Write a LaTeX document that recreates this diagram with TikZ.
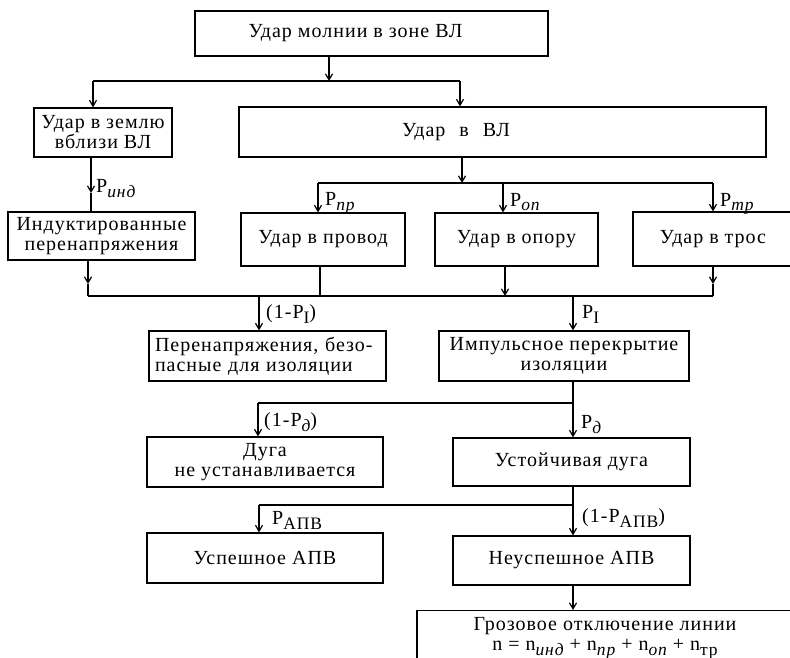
\documentclass[tikz,border=0pt]{standalone}
\usepackage{fontspec}
\setmainfont{Liberation Serif}[LetterSpace=5]
\usetikzlibrary{arrows.meta}
\newcommand{\sbI}[1]{\raisebox{-5pt}{\fontsize{17.5}{17.5}\selectfont\itshape #1}}
\newcommand{\sbU}[1]{\raisebox{-5pt}{\fontsize{17.5}{17.5}\selectfont\upshape #1}}
\begin{document}
\begin{tikzpicture}[x=1pt,y=-1pt,
  box/.style={draw, line width=1.2pt, inner sep=3pt, align=center, font=\fontsize{20}{20}\selectfont},
  ln/.style={line width=1.2pt},
  arr/.style={ln, -{Straight Barb[length=6pt,width=7pt]}},
  lbl/.style={anchor=base west, inner sep=0pt, font=\fontsize{20}{20}\selectfont}]
\useasboundingbox (0,0) rectangle (790,658);
\fill[white] (0,0) rectangle (790,658);
\clip (0,0) rectangle (790,658);

% boxes
\node[box, minimum width=353pt, minimum height=45pt] (top) at (371.5,33.5) {Удар молнии в зоне ВЛ\hspace{32pt}};
\node[box, minimum width=138pt, minimum height=49pt] (zem) at (103,132.5) {Удар в землю\\вблизи ВЛ};
\node[box, minimum width=527pt, minimum height=50pt] (vl) at (502.5,132) {Удар\hspace{14pt}в\hspace{14pt}ВЛ\hspace{93pt}};
\node[box, minimum width=187pt, minimum height=48pt] (ind) at (101.5,236) {Индуктированные\\перенапряжения};
\node[box, minimum width=164pt, minimum height=53pt] (prov) at (323,239.5) {Удар в провод};
\node[box, minimum width=163pt, minimum height=53pt] (opora) at (516.5,239.5) {Удар в опору};
\node[box, minimum width=160pt, minimum height=54pt] (tros) at (713,239) {Удар в трос};
\node[box, minimum width=237pt, minimum height=50pt, align=left, text width=225pt, inner xsep=6pt] (safe) at (267.5,356) {Перенапряжения, безо-\\пасные для изоляции};
\node[box, minimum width=250pt, minimum height=50pt] (imp) at (564,356) {Импульсное перекрытие\\изоляции};
\node[box, minimum width=236pt, minimum height=50pt] (nodug) at (265,462) {Дуга\\не устанавливается};
\node[box, minimum width=237pt, minimum height=48pt] (ust) at (571.5,462) {Устойчивая дуга};
\node[box, minimum width=236pt, minimum height=50pt] (usp) at (265,558) {Успешное АПВ};
\node[box, minimum width=237pt, minimum height=49pt] (neusp) at (571.5,560.5) {Неуспешное АПВ};
\node[box, anchor=north, minimum width=376pt, font=\fontsize{20}{20}\selectfont] (groz) at (605,610)
  {\rule{0pt}{17pt}Грозовое отключение линии\\n = n\sbI{инд} + n\sbI{пр} + n\sbI{оп} + n\sbU{тр}\rule[-30pt]{0pt}{30pt}};

% junction coordinates
\coordinate (a0) at (329,81);
\coordinate (aL) at (93,81);
\coordinate (aR) at (460,81);
\coordinate (bM) at (91,193);
\coordinate (c0) at (462,183);
\coordinate (cL) at (318,183);
\coordinate (cM) at (503,183);
\coordinate (cR) at (713,183);
\coordinate (dL) at (88,296);
\coordinate (dIm) at (88,284);
\coordinate (dP) at (320,296);
\coordinate (dO) at (505,296);
\coordinate (dTm) at (713,284);
\coordinate (dR) at (713,296);
\coordinate (eL) at (259,296);
\coordinate (eR) at (573,296);
\coordinate (fL) at (258,403);
\coordinate (fR) at (573,403);
\coordinate (gL) at (259,505);
\coordinate (gR) at (573,505);
\coordinate (hR) at (573,585);

% connectors
\draw[arr] (top.south -| a0) -- (a0);
\draw[ln] (aL) -- (aR);
\draw[arr] (aL) -- (aL |- zem.north);
\draw[arr] (aR) -- (aR |- vl.north);

\draw[arr] (zem.south -| bM) -- (bM);
\draw[ln] (bM) -- (bM |- ind.north);

\draw[arr] (vl.south -| c0) -- (c0);
\draw[ln] (cL) -- (cR);
\draw[arr] (cL) -- (cL |- prov.north);
\draw[arr] (cM) -- (cM |- opora.north);
\draw[arr] (cR) -- (cR |- tros.north);

\draw[arr] (ind.south -| dIm) -- (dIm);
\draw[ln] (dIm) -- (dL);
\draw[ln] (prov.south -| dP) -- (dP);
\draw[arr] (opora.south -| dO) -- (dO);
\draw[arr] (tros.south -| dTm) -- (dTm);
\draw[ln] (dTm) -- (dR);
\draw[ln] (dL) -- (dR);

\draw[arr] (eL) -- (eL |- safe.north);
\draw[arr] (eR) -- (eR |- imp.north);

\draw[ln] (imp.south -| fR) -- (fR);
\draw[ln] (fL) -- (fR);
\draw[arr] (fL) -- (fL |- nodug.north);
\draw[arr] (fR) -- (fR |- ust.north);

\draw[ln] (ust.south -| gR) -- (gR);
\draw[ln] (gL) -- (gR);
\draw[arr] (gL) -- (gL |- usp.north);
\draw[arr] (gR) -- (gR |- neusp.north);

\draw[arr] (neusp.south -| hR) -- (hR |- groz.north);

% labels
\node[lbl] (lind) at (96,193) {P\sbI{инд}};
\node[lbl] (lpr) at (325,205) {P\sbI{пр}};
\node[lbl] (lop) at (510,206) {P\sbI{оп}};
\node[lbl] (ltr) at (720,206) {P\sbI{тр}};
\node[lbl] (l1pi) at (266,318) {(1-P\sbU{I})};
\node[lbl] (lpi) at (582,318) {P\sbU{I}};
\node[lbl] (l1pd) at (264,426) {(1-P\sbI{д})};
\node[lbl] (lpd) at (581,428) {P\sbI{д}};
\node[lbl] (lapv) at (272,524) {P\sbU{АПВ}};
\node[lbl] (l1apv) at (582,522) {(1-P\sbU{АПВ})};
\end{tikzpicture}
\end{document}
